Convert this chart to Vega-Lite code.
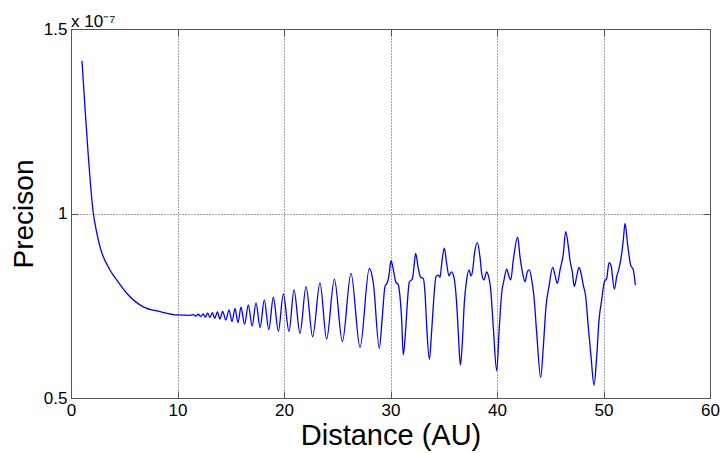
{
  "$schema": "https://vega.github.io/schema/vega-lite/v6.json",
  "width": 639,
  "height": 369,
  "autosize": {"type": "none"},
  "padding": {"left": 71, "top": 29, "right": 10, "bottom": 55},
  "background": "white",
  "config": {
    "view": {"stroke": "#555555", "strokeWidth": 1},
    "font": "Liberation Sans"
  },
  "title": {
    "text": "x 10⁻⁷",
    "anchor": "start",
    "frame": "group",
    "fontSize": 17,
    "fontWeight": "normal",
    "font": "Liberation Sans",
    "color": "black",
    "offset": -11
  },
  "data": {
    "values": [
      {"distance": 1.03, "precision": 1.414e-7},
      {"distance": 1.15, "precision": 1.36e-7},
      {"distance": 1.31, "precision": 1.289e-7},
      {"distance": 1.63, "precision": 1.154e-7},
      {"distance": 2.1, "precision": 1.0e-7},
      {"distance": 2.37, "precision": 0.955e-7},
      {"distance": 2.72, "precision": 0.910e-7},
      {"distance": 3.66, "precision": 0.847e-7},
      {"distance": 4.29, "precision": 0.820e-7},
      {"distance": 5.23, "precision": 0.784e-7},
      {"distance": 6.79, "precision": 0.747e-7},
      {"distance": 8.36, "precision": 0.734e-7},
      {"distance": 9.98, "precision": 0.725e-7},
      {"distance": 11.2, "precision": 0.724e-7},
      {"distance": 11.48, "precision": 0.726e-7},
      {"distance": 11.72, "precision": 0.722e-7},
      {"distance": 11.95, "precision": 0.727e-7},
      {"distance": 12.18, "precision": 0.721e-7},
      {"distance": 12.42, "precision": 0.728e-7},
      {"distance": 12.62, "precision": 0.719e-7},
      {"distance": 12.83, "precision": 0.730e-7},
      {"distance": 13.05, "precision": 0.718e-7},
      {"distance": 13.27, "precision": 0.731e-7},
      {"distance": 13.5, "precision": 0.716e-7},
      {"distance": 13.74, "precision": 0.733e-7},
      {"distance": 13.99, "precision": 0.714e-7},
      {"distance": 14.24, "precision": 0.735e-7},
      {"distance": 14.54, "precision": 0.711e-7},
      {"distance": 14.84, "precision": 0.739e-7},
      {"distance": 15.12, "precision": 0.707e-7},
      {"distance": 15.4, "precision": 0.743e-7},
      {"distance": 15.68, "precision": 0.704e-7},
      {"distance": 15.96, "precision": 0.746e-7},
      {"distance": 16.3, "precision": 0.700e-7},
      {"distance": 16.65, "precision": 0.752e-7},
      {"distance": 17.01, "precision": 0.695e-7},
      {"distance": 17.37, "precision": 0.758e-7},
      {"distance": 17.76, "precision": 0.691e-7},
      {"distance": 18.15, "precision": 0.766e-7},
      {"distance": 18.57, "precision": 0.685e-7},
      {"distance": 19.0, "precision": 0.773e-7},
      {"distance": 19.47, "precision": 0.681e-7},
      {"distance": 19.94, "precision": 0.782e-7},
      {"distance": 20.47, "precision": 0.680e-7},
      {"distance": 20.94, "precision": 0.793e-7},
      {"distance": 21.5, "precision": 0.675e-7},
      {"distance": 22.07, "precision": 0.802e-7},
      {"distance": 22.69, "precision": 0.666e-7},
      {"distance": 23.38, "precision": 0.812e-7},
      {"distance": 24.0, "precision": 0.660e-7},
      {"distance": 24.73, "precision": 0.822e-7},
      {"distance": 25.48, "precision": 0.653e-7},
      {"distance": 26.29, "precision": 0.838e-7},
      {"distance": 27.14, "precision": 0.637e-7},
      {"distance": 28.01, "precision": 0.851e-7},
      {"distance": 28.39, "precision": 0.811e-7},
      {"distance": 28.95, "precision": 0.635e-7},
      {"distance": 29.23, "precision": 0.720e-7},
      {"distance": 29.48, "precision": 0.802e-7},
      {"distance": 29.73, "precision": 0.815e-7},
      {"distance": 29.86, "precision": 0.833e-7},
      {"distance": 30.05, "precision": 0.872e-7},
      {"distance": 30.27, "precision": 0.847e-7},
      {"distance": 30.49, "precision": 0.815e-7},
      {"distance": 30.74, "precision": 0.806e-7},
      {"distance": 30.89, "precision": 0.775e-7},
      {"distance": 31.05, "precision": 0.711e-7},
      {"distance": 31.2, "precision": 0.617e-7},
      {"distance": 31.42, "precision": 0.684e-7},
      {"distance": 31.58, "precision": 0.757e-7},
      {"distance": 31.77, "precision": 0.815e-7},
      {"distance": 32.05, "precision": 0.822e-7},
      {"distance": 32.24, "precision": 0.865e-7},
      {"distance": 32.36, "precision": 0.892e-7},
      {"distance": 32.61, "precision": 0.851e-7},
      {"distance": 32.83, "precision": 0.827e-7},
      {"distance": 33.08, "precision": 0.824e-7},
      {"distance": 33.24, "precision": 0.784e-7},
      {"distance": 33.4, "precision": 0.693e-7},
      {"distance": 33.65, "precision": 0.605e-7},
      {"distance": 33.87, "precision": 0.684e-7},
      {"distance": 34.08, "precision": 0.775e-7},
      {"distance": 34.27, "precision": 0.829e-7},
      {"distance": 34.49, "precision": 0.833e-7},
      {"distance": 34.65, "precision": 0.827e-7},
      {"distance": 34.81, "precision": 0.865e-7},
      {"distance": 35.05, "precision": 0.906e-7},
      {"distance": 35.27, "precision": 0.865e-7},
      {"distance": 35.49, "precision": 0.831e-7},
      {"distance": 35.74, "precision": 0.842e-7},
      {"distance": 35.96, "precision": 0.827e-7},
      {"distance": 36.21, "precision": 0.757e-7},
      {"distance": 36.37, "precision": 0.675e-7},
      {"distance": 36.56, "precision": 0.589e-7},
      {"distance": 36.74, "precision": 0.648e-7},
      {"distance": 36.93, "precision": 0.757e-7},
      {"distance": 37.15, "precision": 0.820e-7},
      {"distance": 37.37, "precision": 0.847e-7},
      {"distance": 37.56, "precision": 0.831e-7},
      {"distance": 37.72, "precision": 0.847e-7},
      {"distance": 37.87, "precision": 0.888e-7},
      {"distance": 38.15, "precision": 0.921e-7},
      {"distance": 38.4, "precision": 0.883e-7},
      {"distance": 38.56, "precision": 0.838e-7},
      {"distance": 38.78, "precision": 0.820e-7},
      {"distance": 39.03, "precision": 0.842e-7},
      {"distance": 39.18, "precision": 0.833e-7},
      {"distance": 39.41, "precision": 0.793e-7},
      {"distance": 39.65, "precision": 0.693e-7},
      {"distance": 39.97, "precision": 0.574e-7},
      {"distance": 40.22, "precision": 0.693e-7},
      {"distance": 40.44, "precision": 0.784e-7},
      {"distance": 40.66, "precision": 0.820e-7},
      {"distance": 40.91, "precision": 0.849e-7},
      {"distance": 41.13, "precision": 0.829e-7},
      {"distance": 41.29, "precision": 0.820e-7},
      {"distance": 41.53, "precision": 0.874e-7},
      {"distance": 41.94, "precision": 0.936e-7},
      {"distance": 42.16, "precision": 0.883e-7},
      {"distance": 42.41, "precision": 0.838e-7},
      {"distance": 42.63, "precision": 0.815e-7},
      {"distance": 42.85, "precision": 0.842e-7},
      {"distance": 43.03, "precision": 0.847e-7},
      {"distance": 43.26, "precision": 0.820e-7},
      {"distance": 43.47, "precision": 0.775e-7},
      {"distance": 43.73, "precision": 0.675e-7},
      {"distance": 44.1, "precision": 0.556e-7},
      {"distance": 44.35, "precision": 0.639e-7},
      {"distance": 44.6, "precision": 0.747e-7},
      {"distance": 44.88, "precision": 0.802e-7},
      {"distance": 45.23, "precision": 0.854e-7},
      {"distance": 45.45, "precision": 0.833e-7},
      {"distance": 45.66, "precision": 0.811e-7},
      {"distance": 45.92, "precision": 0.847e-7},
      {"distance": 46.23, "precision": 0.892e-7},
      {"distance": 46.45, "precision": 0.951e-7},
      {"distance": 46.7, "precision": 0.910e-7},
      {"distance": 46.85, "precision": 0.874e-7},
      {"distance": 47.07, "precision": 0.842e-7},
      {"distance": 47.26, "precision": 0.802e-7},
      {"distance": 47.48, "precision": 0.829e-7},
      {"distance": 47.7, "precision": 0.854e-7},
      {"distance": 47.89, "precision": 0.838e-7},
      {"distance": 48.1, "precision": 0.806e-7},
      {"distance": 48.33, "precision": 0.775e-7},
      {"distance": 48.57, "precision": 0.693e-7},
      {"distance": 48.83, "precision": 0.612e-7},
      {"distance": 49.11, "precision": 0.535e-7},
      {"distance": 49.36, "precision": 0.612e-7},
      {"distance": 49.58, "precision": 0.711e-7},
      {"distance": 49.83, "precision": 0.766e-7},
      {"distance": 50.08, "precision": 0.815e-7},
      {"distance": 50.3, "precision": 0.824e-7},
      {"distance": 50.52, "precision": 0.867e-7},
      {"distance": 50.7, "precision": 0.860e-7},
      {"distance": 51.02, "precision": 0.795e-7},
      {"distance": 51.24, "precision": 0.829e-7},
      {"distance": 51.46, "precision": 0.851e-7},
      {"distance": 51.71, "precision": 0.892e-7},
      {"distance": 51.86, "precision": 0.928e-7},
      {"distance": 52.02, "precision": 0.973e-7},
      {"distance": 52.27, "precision": 0.915e-7},
      {"distance": 52.55, "precision": 0.860e-7},
      {"distance": 52.8, "precision": 0.847e-7},
      {"distance": 52.99, "precision": 0.806e-7}
    ]
  },
  "layer": [
    {
      "mark": {"type": "line", "strokeOpacity": 0},
      "encoding": {
        "x": {
          "field": "distance", "type": "quantitative",
          "scale": {"domain": [0, 60], "nice": false},
          "axis": {"orient": "top", "values": [0, 10, 20, 30, 40, 50, 60], "labels": false, "title": null, "grid": false, "tickSize": -7, "tickColor": "#555555", "domainColor": "#555555"}
        },
        "y": {
          "field": "precision", "type": "quantitative",
          "scale": {"domain": [0.5e-7, 1.5e-7], "nice": false, "zero": false},
          "axis": {"orient": "right", "values": [0.5e-7, 1.0e-7, 1.5e-7], "labels": false, "title": null, "grid": false, "tickSize": -7, "tickColor": "#555555", "domainColor": "#555555"}
        }
      }
    },
    {
      "mark": {"type": "line", "color": "#0000ff", "strokeWidth": 1.3, "interpolate": "monotone"},
      "encoding": {
        "x": {
          "field": "distance", "type": "quantitative",
          "scale": {"domain": [0, 60], "nice": false},
          "axis": {
            "orient": "bottom", "values": [0, 10, 20, 30, 40, 50, 60],
            "tickSize": -7, "tickColor": "#555555", "domainColor": "#555555",
            "labelFontSize": 17, "labelColor": "black", "labelPadding": 11, "labelFont": "Liberation Sans", "labelFlush": false,
            "grid": true, "gridDash": [1, 2], "gridColor": "#444444", "gridWidth": 1,
            "title": "Distance (AU)", "titleFontSize": 29, "titleFontWeight": "normal", "titleColor": "black", "titleFont": "Liberation Sans", "titlePadding": 3
          }
        },
        "y": {
          "field": "precision", "type": "quantitative",
          "scale": {"domain": [0.5e-7, 1.5e-7], "nice": false, "zero": false},
          "axis": {
            "orient": "left", "values": [0.5e-7, 1.0e-7, 1.5e-7],
            "labelExpr": "format(datum.value * 1e7, '.2~g')",
            "tickSize": -7, "tickColor": "#555555", "domainColor": "#555555",
            "labelFontSize": 17, "labelColor": "black", "labelPadding": 11, "labelFont": "Liberation Sans", "labelFlush": false,
            "grid": true, "gridDash": [1, 2], "gridColor": "#444444", "gridWidth": 1,
            "title": "Precison", "titleFontSize": 28, "titleFontWeight": "normal", "titleColor": "black", "titleFont": "Liberation Sans", "titlePadding": 5
          }
        }
      }
    }
  ],
  "resolve": {"axis": {"x": "independent", "y": "independent"}}
}
